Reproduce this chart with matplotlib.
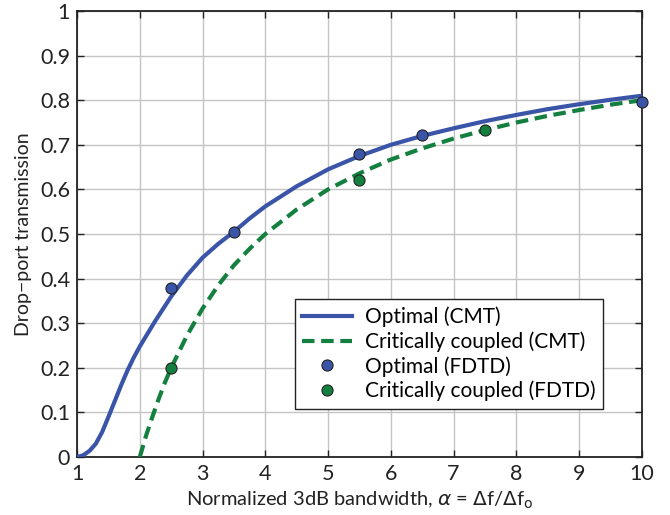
import matplotlib
matplotlib.use('Agg')
import matplotlib.pyplot as plt

plt.rcParams['font.family'] = ['Lato', 'DejaVu Sans']
plt.rcParams['mathtext.fontset'] = 'dejavusans'

# Optimal (CMT) curve
opt_x = [1.0, 1.1, 1.2, 1.3, 1.4, 1.5, 1.6, 1.7, 1.8, 1.9, 2.0, 2.25, 2.5, 2.75,
         3.0, 3.25, 3.5, 3.75, 4.0, 4.5, 5.0, 5.5, 6.0, 6.5, 7.0, 7.5, 8.0,
         8.5, 9.0, 9.5, 10.0]
opt_y = [0.0, 0.004, 0.014, 0.03, 0.056, 0.09, 0.125, 0.16, 0.193, 0.222, 0.248,
         0.306, 0.36, 0.407, 0.447, 0.478, 0.505, 0.535, 0.562, 0.607, 0.645, 0.675,
         0.70, 0.72, 0.737, 0.753, 0.767, 0.78, 0.791, 0.801, 0.81]

# Critically coupled (CMT) curve
crit_x = [2.0, 2.1, 2.2, 2.3, 2.4, 2.5, 2.75, 3.0, 3.25, 3.5, 3.75, 4.0, 4.5, 5.0,
          5.5, 6.0, 6.5, 7.0, 7.5, 8.0, 8.5, 9.0, 9.5, 10.0]
crit_y = [0.0, 0.048, 0.09, 0.13, 0.167, 0.20, 0.272, 0.333, 0.385, 0.43, 0.467,
          0.50, 0.555, 0.60, 0.636, 0.667, 0.692, 0.714, 0.733, 0.75, 0.765,
          0.778, 0.79, 0.80]

# FDTD points
opt_fdtd_x = [2.5, 3.5, 5.5, 6.5, 10.0]
opt_fdtd_y = [0.38, 0.505, 0.679, 0.722, 0.795]
crit_fdtd_x = [2.5, 5.5, 7.5]
crit_fdtd_y = [0.20, 0.62, 0.733]

xticks = [1, 2, 3, 4, 5, 6, 7, 8, 9, 10]
yticks = [0, 0.1, 0.2, 0.3, 0.4, 0.5, 0.6, 0.7, 0.8, 0.9, 1]
ytick_labels = ['0', '0.1', '0.2', '0.3', '0.4', '0.5', '0.6', '0.7', '0.8', '0.9', '1']

blue = '#3a55a8'
green = '#13803f'

fig = plt.figure(figsize=(6.7, 5.15), dpi=100)
ax = fig.add_axes([0.115, 0.1126, 0.843, 0.866])

ax.plot(opt_x, opt_y, color=blue, lw=3, label='Optimal (CMT)', zorder=3)
ax.plot(crit_x, crit_y, color=green, lw=3, ls=(0, (3, 1.6)),
        label='Critically coupled (CMT)', zorder=3)
ax.plot(opt_fdtd_x, opt_fdtd_y, 'o', color=blue, mec='#222222', mew=0.8, ms=8,
        label='Optimal (FDTD)', zorder=4, clip_on=False)
ax.plot(crit_fdtd_x, crit_fdtd_y, 'o', color=green, mec='#222222', mew=0.8, ms=8,
        label='Critically coupled (FDTD)', zorder=4, clip_on=False)

ax.set_xlim(1, 10)
ax.set_ylim(0, 1)
ax.set_xticks(xticks)
ax.set_yticks(yticks)
ax.set_yticklabels(ytick_labels)
ax.grid(True, color='#c4c4c4', lw=1)
ax.set_axisbelow(True)
ax.tick_params(direction='in', top=True, right=True, length=5, width=1,
               labelsize=15.5, colors='#222222', pad=5)
for s in ax.spines.values():
    s.set_linewidth(1.3)
    s.set_color('#222222')

ax.set_xlabel(r'Normalized 3dB bandwidth, $\alpha$ = $\Delta$f/$\Delta$f$_{\rm o}$',
              fontsize=14.5, color='#222222', labelpad=4)
ax.set_ylabel('Drop\u2212port transmission', fontsize=14, color='#222222', labelpad=6)

leg = ax.legend(loc='lower right', bbox_to_anchor=(0.949, 0.085), fontsize=15,
                fancybox=False, framealpha=1, edgecolor='#222222',
                handlelength=2.4, borderpad=0.35, labelspacing=0.2, handletextpad=0.6)
leg.get_frame().set_linewidth(1.0)

fig.savefig('out.png', dpi=100)
